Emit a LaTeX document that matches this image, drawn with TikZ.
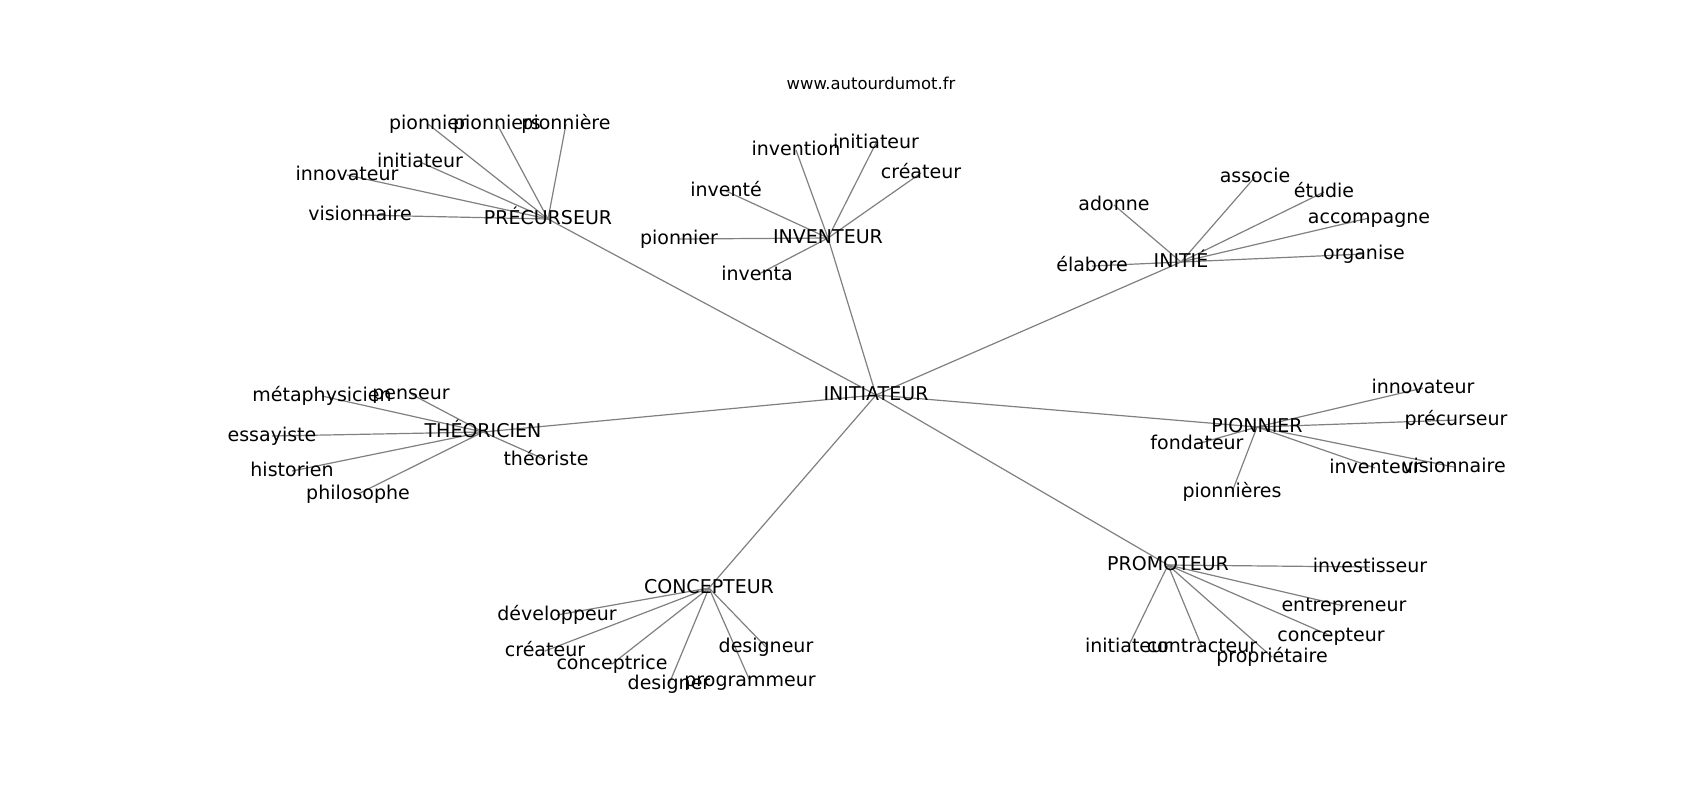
\documentclass[tikz,border=0pt]{standalone}
\usepackage{fontspec}
\setmainfont{DejaVu Sans}
\usetikzlibrary{backgrounds}
\begin{document}
\begin{tikzpicture}[x=0.5pt,y=-0.5pt,
  lbl/.style={inner sep=0pt,text height=0.76em,text depth=0.21em,font=\fontsize{9.5}{11}\selectfont,text=black},
  ttl/.style={inner sep=0pt,font=\fontsize{8.2}{10}\selectfont,text=black},
  edge/.style={draw=black!50,line width=0.6pt}]
\useasboundingbox (0,0) rectangle (1700,800);
\node[ttl] (title) at (871,83) {www.autourdumot.fr};
% hubs
\node[lbl] (c) at (876,395) {INITIATEUR};
\node[lbl] (pre) at (548,219) {PRÉCURSEUR};
\node[lbl] (inv) at (828,238) {INVENTEUR};
\node[lbl] (ini) at (1181,262) {INITIÉ};
\node[lbl] (the) at (483,432) {THÉORICIEN};
\node[lbl] (pio) at (1257,427) {PIONNIER};
\node[lbl] (con) at (709,588) {CONCEPTEUR};
\node[lbl] (pro) at (1168,565) {PROMOTEUR};
% précurseur
\node[lbl] (pre1) at (428,124) {pionnier};
\node[lbl] (pre2) at (497,124) {pionniers};
\node[lbl] (pre3) at (566,124) {pionnière};
\node[lbl] (pre4) at (420,162) {initiateur};
\node[lbl] (pre5) at (347,175) {innovateur};
\node[lbl] (pre6) at (360,215) {visionnaire};
% inventeur
\node[lbl] (inv1) at (796,150) {invention};
\node[lbl] (inv2) at (876,143) {initiateur};
\node[lbl] (inv3) at (921,173) {créateur};
\node[lbl] (inv4) at (726,191) {inventé};
\node[lbl] (inv5) at (679,239) {pionnier};
\node[lbl] (inv6) at (757,275) {inventa};
% initié
\node[lbl] (ini1) at (1255,177) {associe};
\node[lbl] (ini2) at (1324,192) {étudie};
\node[lbl] (ini3) at (1114,205) {adonne};
\node[lbl] (ini4) at (1369,218) {accompagne};
\node[lbl] (ini5) at (1364,254) {organise};
\node[lbl] (ini6) at (1092,266) {élabore};
% théoricien
\node[lbl] (the1) at (322,396) {métaphysicien};
\node[lbl] (the2) at (411,394) {penseur};
\node[lbl] (the3) at (272,436) {essayiste};
\node[lbl] (the4) at (292,471) {historien};
\node[lbl] (the5) at (358,494) {philosophe};
\node[lbl] (the6) at (546,460) {théoriste};
% pionnier
\node[lbl] (pio1) at (1423,388) {innovateur};
\node[lbl] (pio2) at (1456,420) {précurseur};
\node[lbl] (pio3) at (1197,444) {fondateur};
\node[lbl] (pio4) at (1375,468) {inventeur};
\node[lbl] (pio5) at (1454,467) {visionnaire};
\node[lbl] (pio6) at (1232,492) {pionnières};
% concepteur
\node[lbl] (con1) at (557,615) {développeur};
\node[lbl] (con2) at (545,651) {créateur};
\node[lbl] (con3) at (612,664) {conceptrice};
\node[lbl] (con4) at (669,684) {designer};
\node[lbl] (con5) at (750,681) {programmeur};
\node[lbl] (con6) at (766,647) {designeur};
% promoteur
\node[lbl] (pro1) at (1370,567) {investisseur};
\node[lbl] (pro2) at (1344,606) {entrepreneur};
\node[lbl] (pro3) at (1331,636) {concepteur};
\node[lbl] (pro4) at (1128,647) {initiateur};
\node[lbl] (pro5) at (1202,647) {contracteur};
\node[lbl] (pro6) at (1272,657) {propriétaire};
\begin{scope}[on background layer]
\fill[white] (0,0) rectangle (1700,800);
\foreach \h in {pre,inv,ini,the,pio,con,pro}{
  \draw[edge] (c.center) -- (\h.center);
  \foreach \i in {1,...,6}{
    \draw[edge] (\h.center) -- (\h\i.center);
  }
}
\end{scope}
\end{tikzpicture}
\end{document}
